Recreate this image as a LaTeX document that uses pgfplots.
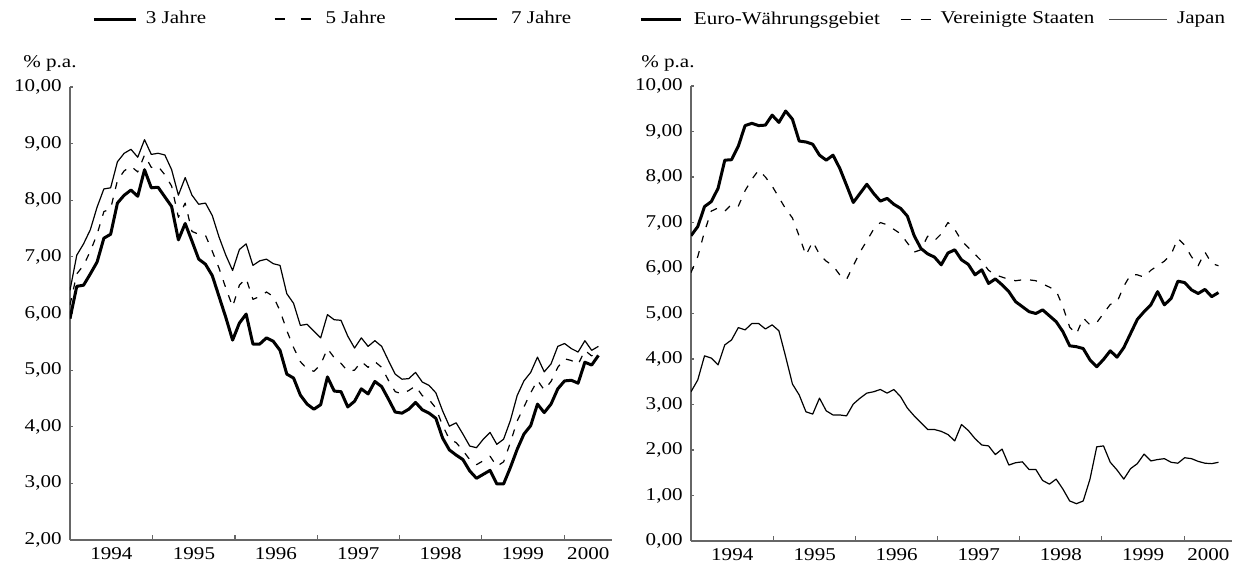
\documentclass[border=0pt]{standalone}
\usepackage{fontspec}
\setmainfont{Liberation Serif}[FakeStretch=1.17]
\usepackage{pgfplots}
\usepackage{pgfplotstable}
\pgfplotsset{compat=1.18}

% monthly values, k = 0 is January 1994
% a = 3 Jahre, b = 5 Jahre, c = 7 Jahre
\pgfplotstableread{
k a b c
0 5.91 6.15 6.41
1 6.48 6.70 7.03
2 6.50 6.85 7.23
3 6.70 7.10 7.48
4 6.91 7.40 7.88
5 7.33 7.80 8.20
6 7.40 7.85 8.22
7 7.95 8.35 8.68
8 8.09 8.52 8.83
9 8.18 8.60 8.90
10 8.07 8.50 8.76
11 8.54 8.80 9.07
12 8.22 8.58 8.81
13 8.23 8.60 8.83
14 8.06 8.45 8.80
15 7.89 8.25 8.54
16 7.30 7.70 8.09
17 7.59 7.95 8.40
18 7.28 7.45 8.09
19 6.96 7.40 7.93
20 6.87 7.38 7.95
21 6.67 7.10 7.73
22 6.30 6.80 7.35
23 5.93 6.45 7.03
24 5.53 6.12 6.76
25 5.83 6.50 7.13
26 5.99 6.62 7.23
27 5.46 6.25 6.85
28 5.46 6.30 6.93
29 5.57 6.38 6.96
30 5.51 6.30 6.88
31 5.35 6.05 6.85
32 4.93 5.70 6.35
33 4.86 5.40 6.18
34 4.56 5.15 5.79
35 4.40 5.02 5.81
36 4.31 4.98 5.69
37 4.39 5.10 5.57
38 4.88 5.38 5.98
39 4.63 5.22 5.89
40 4.62 5.12 5.88
41 4.35 4.98 5.60
42 4.45 5.00 5.39
43 4.67 5.15 5.57
44 4.58 5.05 5.42
45 4.80 5.15 5.52
46 4.71 5.05 5.42
47 4.49 4.82 5.17
48 4.26 4.62 4.93
49 4.24 4.58 4.84
50 4.31 4.64 4.85
51 4.43 4.72 4.96
52 4.30 4.55 4.79
53 4.24 4.48 4.73
54 4.15 4.33 4.60
55 3.80 4.02 4.28
56 3.59 3.78 4.01
57 3.50 3.72 4.07
58 3.42 3.58 3.87
59 3.22 3.42 3.66
60 3.09 3.33 3.63
61 3.16 3.40 3.78
62 3.23 3.48 3.90
63 2.99 3.30 3.69
64 2.99 3.38 3.78
65 3.28 3.72 4.11
66 3.60 4.10 4.55
67 3.87 4.35 4.81
68 4.02 4.60 4.96
69 4.40 4.82 5.23
70 4.25 4.65 4.97
71 4.40 4.80 5.11
72 4.67 5.05 5.42
73 4.81 5.20 5.47
74 4.82 5.17 5.38
75 4.77 5.10 5.32
76 5.14 5.35 5.52
77 5.09 5.25 5.35
78 5.26 5.38 5.42
}\laufzeiten

% eu = Euro-Waehrungsgebiet, us = Vereinigte Staaten, jp = Japan
\pgfplotstableread{
k eu us jp
0 6.71 5.90 3.28
1 6.91 6.25 3.54
2 7.35 6.80 4.07
3 7.46 7.25 4.02
4 7.75 7.32 3.87
5 8.37 7.25 4.31
6 8.38 7.40 4.42
7 8.68 7.36 4.69
8 9.13 7.70 4.64
9 9.18 7.95 4.78
10 9.13 8.15 4.78
11 9.14 8.00 4.66
12 9.36 7.80 4.75
13 9.20 7.55 4.62
14 9.45 7.30 4.05
15 9.27 7.10 3.45
16 8.79 6.70 3.21
17 8.77 6.28 2.84
18 8.72 6.58 2.79
19 8.48 6.30 3.14
20 8.37 6.15 2.86
21 8.48 6.05 2.77
22 8.19 5.85 2.77
23 7.82 5.75 2.75
24 7.44 6.05 3.01
25 7.64 6.35 3.14
26 7.84 6.60 3.25
27 7.64 6.85 3.28
28 7.47 7.00 3.33
29 7.53 6.95 3.25
30 7.40 6.85 3.33
31 7.31 6.75 3.17
32 7.14 6.55 2.92
33 6.71 6.35 2.75
34 6.43 6.40 2.60
35 6.31 6.70 2.45
36 6.24 6.60 2.45
37 6.07 6.75 2.41
38 6.33 7.00 2.34
39 6.40 6.85 2.20
40 6.18 6.60 2.56
41 6.08 6.45 2.43
42 5.85 6.30 2.25
43 5.96 6.15 2.11
44 5.66 5.95 2.09
45 5.76 5.85 1.90
46 5.63 5.80 2.02
47 5.48 5.75 1.67
48 5.26 5.72 1.72
49 5.15 5.74 1.74
50 5.04 5.74 1.57
51 5.00 5.72 1.57
52 5.08 5.65 1.33
53 4.95 5.58 1.25
54 4.82 5.50 1.36
55 4.60 5.15 1.14
56 4.29 4.70 0.88
57 4.27 4.55 0.82
58 4.23 4.90 0.88
59 3.98 4.75 1.36
60 3.83 4.80 2.07
61 3.99 5.00 2.09
62 4.18 5.20 1.73
63 4.04 5.25 1.56
64 4.25 5.60 1.36
65 4.56 5.85 1.59
66 4.87 5.85 1.70
67 5.04 5.80 1.91
68 5.19 5.95 1.76
69 5.48 6.05 1.79
70 5.19 6.15 1.81
71 5.33 6.30 1.73
72 5.71 6.65 1.71
73 5.68 6.50 1.83
74 5.52 6.25 1.81
75 5.44 6.05 1.75
76 5.53 6.35 1.71
77 5.37 6.10 1.70
78 5.46 6.05 1.73
}\laender

\pgfplotsset{
  zinschart/.style={
    scale only axis, width=271pt, height=226.5pt,
    axis lines*=left,
    axis line style={black!60, line width=0.6pt},
    xmin=0, xmax=80, enlargelimits=false,
    xtick={6.1,18.3,30.4,42.55,54.7,66.85,76.5},
    xticklabels={1994,1995,1996,1997,1998,1999,2000},
    minor xtick={12.2,24.35,36.5,48.6,60.75,72.95},
    major x tick style={draw=none},
    minor x tick style={black!60, line width=0.6pt},
    minor tick length=2.5pt, major tick length=1.5pt,
    ytick style={black!60, line width=0.6pt},
    tick align=inside,
    ytick distance=1,
    /pgf/number format/assume math mode=true,
    yticklabel style={/pgf/number format/fixed, /pgf/number format/fixed zerofill,
      /pgf/number format/precision=2, /pgf/number format/use comma, xshift=-1pt},
    xticklabel style={yshift=-0.5pt},
    ylabel={\% p.a.},
    legend columns=3,
    legend cell align=left,
    legend style={draw=none, fill=none, inner sep=0pt, column sep=0pt,
      nodes={inner sep=0pt}},
    line join=round,
  },
  dick/.style={black, line width=1.5pt},
  duenn/.style={black, line width=0.6pt},
  gestrichelt/.style={black, line width=0.6pt, dash pattern=on 3.5pt off 4.5pt},
}

\begin{document}
\fontsize{9}{11}\selectfont
\begin{tikzpicture}
\useasboundingbox (-35pt,-12pt) rectangle (581.5pt,270pt);

\begin{axis}[zinschart, at={(0pt,0pt)}, anchor=south west,
  ymin=2, ymax=10,
  ylabel style={rotate=-90, at={(axis description cs:-0.037,1.053)}, anchor=center},
  legend style={at={(axis description cs:0.0406,1.150)}, anchor=west}]
\addplot[dick, legend image code/.code={\draw[black, line width=1.5pt] (0pt,0pt) -- (21pt,0pt); \path[draw=none, fill=none] (0pt,-2pt) rectangle (26pt,2pt);}]
  table[x=k, y=a] {\laufzeiten};
\addlegendentry{\makebox[64pt][l]{3 Jahre}}
\addplot[gestrichelt, legend image code/.code={\draw[black, line width=0.6pt, dash pattern=on 5pt off 8pt] (0pt,0pt) -- (18pt,0pt); \path[draw=none, fill=none] (0pt,-2pt) rectangle (25.5pt,2pt);}]
  table[x=k, y=b] {\laufzeiten};
\addlegendentry{\makebox[64.5pt][l]{5 Jahre}}
\addplot[duenn, legend image code/.code={\draw[black, line width=0.6pt] (0pt,0pt) -- (21pt,0pt); \path[draw=none, fill=none] (0pt,-2pt) rectangle (28pt,2pt);}]
  table[x=k, y=c] {\laufzeiten};
\addlegendentry{7 Jahre}
\end{axis}

\begin{axis}[zinschart, at={(310.5pt,-0.5pt)}, anchor=south west,
  width=270.5pt, height=227.5pt,
  ymin=0, ymax=10,
  ylabel style={rotate=-90, at={(axis description cs:-0.0426,1.0505)}, anchor=center},
  legend style={at={(axis description cs:-0.0961,1.147)}, anchor=west}]
\addplot[dick, legend image code/.code={\draw[black, line width=1.5pt] (0pt,0pt) -- (20pt,0pt); \path[draw=none, fill=none] (0pt,-2pt) rectangle (26.5pt,2pt);}]
  table[x=k, y=eu] {\laender};
\addlegendentry{\makebox[103pt][l]{Euro-Währungsgebiet}}
\addplot[gestrichelt, legend image code/.code={\draw[black, line width=0.6pt, dash pattern=on 5pt off 5pt] (0pt,0pt) -- (15pt,0pt); \path[draw=none, fill=none] (0pt,-2pt) rectangle (20pt,2pt);}]
  table[x=k, y=us] {\laender};
\addlegendentry{\makebox[84pt][l]{Vereinigte Staaten}}
\addplot[duenn, legend image code/.code={\draw[black!70, line width=0.6pt] (0pt,0pt) -- (29pt,0pt); \path[draw=none, fill=none] (0pt,-2pt) rectangle (34pt,2pt);}]
  table[x=k, y=jp] {\laender};
\addlegendentry{Japan}
\end{axis}
\end{tikzpicture}
\end{document}
